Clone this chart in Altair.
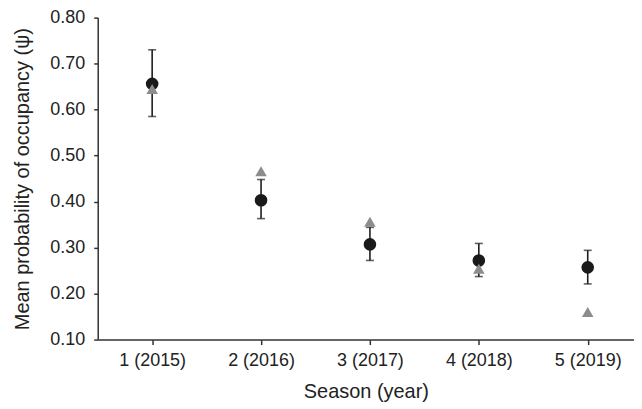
import altair as alt
import pandas as pd

seasons = ["1 (2015)", "2 (2016)", "3 (2017)", "4 (2018)", "5 (2019)"]
season_num = [1, 2, 3, 4, 5]
psi_mean = [0.656, 0.403, 0.307, 0.272, 0.257]
psi_low = [0.585, 0.363, 0.272, 0.237, 0.221]
psi_high = [0.730, 0.448, 0.344, 0.309, 0.294]
naive = [0.645, 0.466, 0.356, 0.254, 0.160]

df = pd.DataFrame({
    "season": season_num,
    "label": seasons,
    "mean": psi_mean,
    "low": psi_low,
    "high": psi_high,
    "naive": naive,
})

FONT = "Liberation Sans"
label_array = "[" + ",".join("'" + s + "'" for s in seasons) + "]"

x_scale = alt.Scale(domain=[0.5, 5.425], nice=False, zero=False)
y_scale = alt.Scale(domain=[0.1, 0.8], nice=False, zero=False)

x_axis = alt.Axis(
    values=season_num,
    labelExpr=label_array + "[datum.value - 1]",
    title="Season (year)",
    grid=False,
    tickSize=5,
    labelPadding=7,
    titlePadding=12,
)
y_axis = alt.Axis(
    values=[round(0.1 + 0.05 * i, 2) for i in range(15)],
    labelExpr="round(datum.value * 100) % 10 == 0 ? format(datum.value, '.2f') : ''",
    title="Mean probability of occupancy (\u03c8)",
    grid=False,
    tickSize=4,
    labelPadding=9,
    titlePadding=17,
)

base = alt.Chart(df)

x_enc = alt.X("season:Q", scale=x_scale, axis=x_axis)

rules = base.mark_rule(color="#1e1e1e", strokeWidth=1.6).encode(
    x=x_enc,
    y=alt.Y("low:Q", scale=y_scale, axis=y_axis),
    y2="high:Q",
)
cap_lo = base.mark_tick(color="#1e1e1e", orient="horizontal", size=8, thickness=1.6).encode(
    x="season:Q", y="low:Q"
)
cap_hi = base.mark_tick(color="#1e1e1e", orient="horizontal", size=8, thickness=1.6).encode(
    x="season:Q", y="high:Q"
)
circles = base.mark_point(shape="circle", filled=True, color="#1a1a1a", size=160, opacity=1).encode(
    x="season:Q", y="mean:Q"
)
tris = base.mark_point(shape="triangle-up", filled=True, color="#8c8c8c", size=135, opacity=1).encode(
    x="season:Q", y="naive:Q"
)

chart = alt.layer(rules, cap_lo, cap_hi, circles, tris).properties(
    width=538,
    height=323,
    autosize=alt.AutoSizeParams(type="none"),
    padding={"left": 90, "top": 9, "right": 0, "bottom": 66},
).configure_view(stroke=None).configure_axis(
    labelFont=FONT,
    titleFont=FONT,
    labelFontSize=18,
    titleFontSize=20,
    titleFontWeight="normal",
    labelColor="#222222",
    titleColor="#222222",
    domainColor="#333333",
    tickColor="#333333",
    domainWidth=1.5,
    tickWidth=1.5,
)

chart.save("out.html", embed_options={"renderer": "svg", "actions": False})
